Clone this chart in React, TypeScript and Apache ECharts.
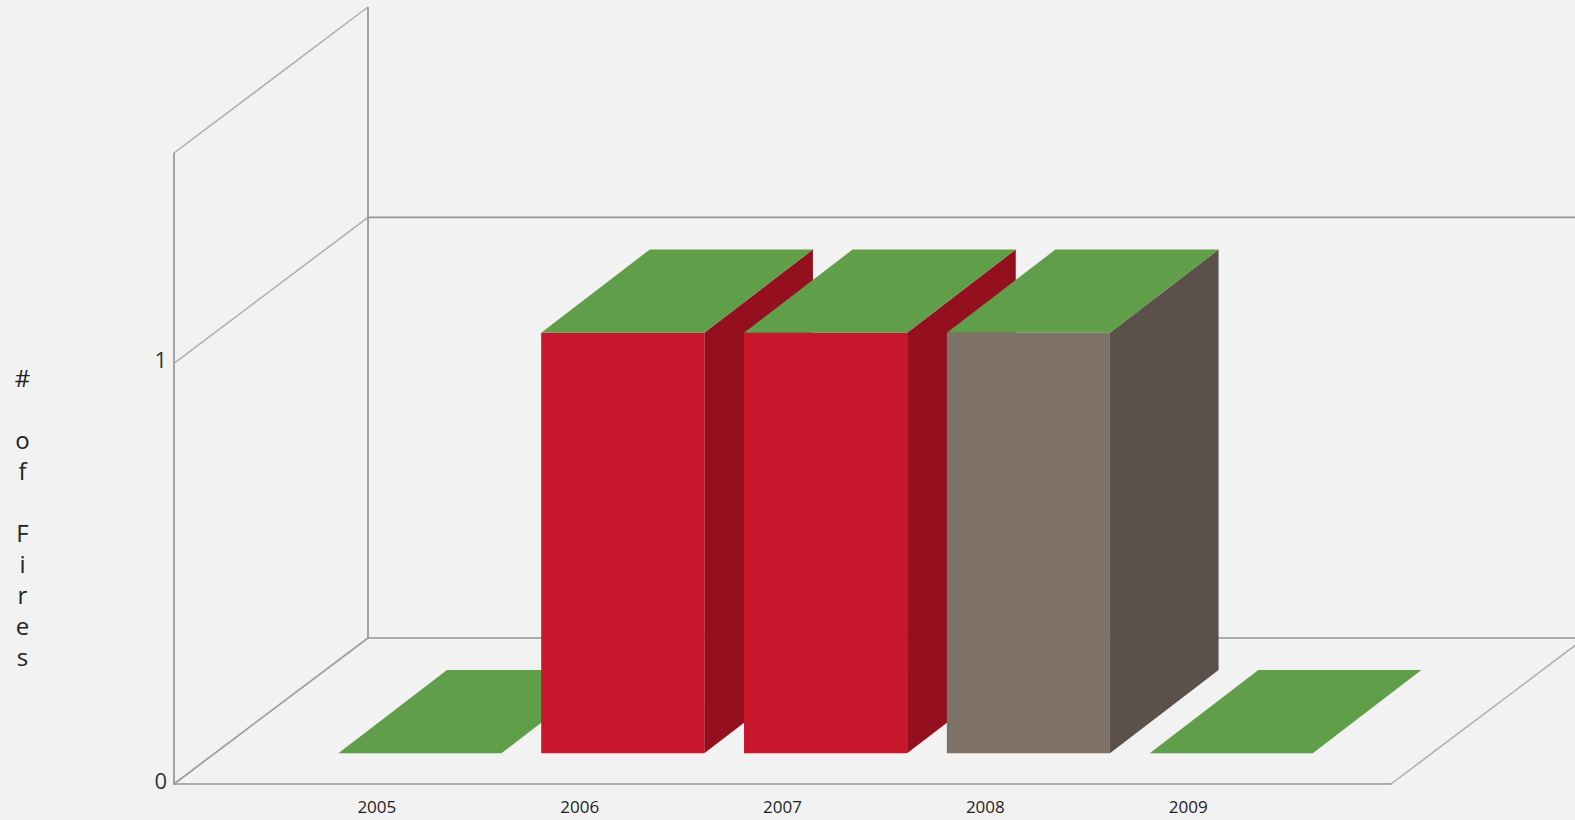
import React, { useEffect, useRef } from "react";
import * as echarts from "echarts";

const categories = ["2005", "2006", "2007", "2008", "2009"];
const fireCounts = [0, 1, 1, 1, 0];
const frontColors = ["#c8172c", "#c8172c", "#c8172c", "#7e7167", "#7e7167"];
const sideColors = ["#94101f", "#94101f", "#94101f", "#5b514a", "#5b514a"];
const topColor = "#619e4a";
const axisTitleLines = ["#", "", "o", "f", "", "F", "i", "r", "e", "s"];
const yMax = 1.5;
const yTicks = [0, 1];

const DEPTH_X = 194;
const DEPTH_Y = 146;
const NEAR_X = 0.222;
const NEAR_Y = 0.21;
const SPAN_X = 0.56;
const SPAN_Y = 0.57;
const FONT = "'Open Sans', 'Noto Sans', sans-serif";

const line = (x1: number, y1: number, x2: number, y2: number, stroke: string, w: number) => ({
  type: "line",
  shape: { x1, y1, x2, y2 },
  style: { stroke, lineWidth: w, fill: "none" },
});

const renderFrame = (_p: any, api: any) => {
  const lastIndex = categories.length + 1;
  const o = api.coord([0, 0]);
  const one = api.coord([0, 1]);
  const top = api.coord([0, yMax]);
  const end = api.coord([lastIndex, 0]);
  const dark = "#959595";
  const light = "#adadad";
  return {
    type: "group",
    children: [
      line(top[0], top[1], top[0] + DEPTH_X, top[1] - DEPTH_Y, light, 1.5),
      line(one[0], one[1], one[0] + DEPTH_X, one[1] - DEPTH_Y, light, 1.5),
      line(o[0], o[1], o[0] + DEPTH_X, o[1] - DEPTH_Y, "#9c9c9c", 1.7),
      line(end[0], end[1], end[0] + DEPTH_X, end[1] - DEPTH_Y, light, 1.5),
      line(top[0] + DEPTH_X, top[1] - DEPTH_Y, o[0] + DEPTH_X, o[1] - DEPTH_Y, dark, 1.7),
      line(one[0] + DEPTH_X, one[1] - DEPTH_Y, end[0] + DEPTH_X, one[1] - DEPTH_Y, dark, 1.7),
      line(o[0] + DEPTH_X, o[1] - DEPTH_Y, end[0] + DEPTH_X, o[1] - DEPTH_Y, dark, 1.7),
    ],
  };
};

const renderBar = (params: any, api: any) => {
  const i = params.dataIndex;
  const idx = api.value(0);
  const val = api.value(1);
  const base = api.coord([idx, 0]);
  const head = api.coord([idx, val]);
  const band = api.coord([1, 0])[0] - api.coord([0, 0])[0];
  const half = band * 0.402;
  const nx = DEPTH_X * NEAR_X;
  const ny = DEPTH_Y * NEAR_Y;
  const fx = DEPTH_X * SPAN_X;
  const fy = DEPTH_Y * SPAN_Y;
  const l = base[0] + nx - half;
  const r = base[0] + nx + half;
  const b = base[1] - ny;
  const t = head[1] - ny;
  const poly = (points: number[][], fill: string) => ({
    type: "polygon",
    shape: { points },
    style: { fill },
  });
  const children: any[] = [];
  if (val > 0) {
    children.push(poly([[r, b], [r + fx, b - fy], [r + fx, t - fy], [r, t]], sideColors[i]));
    children.push(poly([[l, b], [r, b], [r, t], [l, t]], frontColors[i]));
  }
  children.push(poly([[l, t], [r, t], [r + fx, t - fy], [l + fx, t - fy]], topColor));
  return { type: "group", children };
};

export default function App() {
  const ref = useRef<HTMLDivElement>(null);
  useEffect(() => {
    document.body.style.margin = "0";
    document.body.style.overflow = "hidden";
    const chart = echarts.init(ref.current!, undefined, { renderer: "svg" });
    chart.setOption({
      animation: false,
      backgroundColor: "#f2f2f2",
      grid: { left: 174, top: 153, width: 1217, height: 631, containLabel: false },
      xAxis: {
        type: "category",
        boundaryGap: false,
        data: ["", ...categories, ""],
        axisLine: { lineStyle: { color: "#959595", width: 1.7 } },
        axisTick: { show: false },
        splitLine: { show: false },
        axisLabel: { color: "#1e1e1e", fontFamily: FONT, fontSize: 17, margin: 14, interval: 0 },
      },
      yAxis: {
        type: "value",
        min: 0,
        max: yMax,
        interval: 1,
        axisLine: { show: true, lineStyle: { color: "#959595", width: 1.7 } },
        axisTick: { show: false },
        splitLine: { show: false },
        axisLabel: {
          color: "#333",
          fontFamily: FONT,
          fontSize: 22,
          margin: 7,
          verticalAlign: "bottom",
          lineHeight: 8,
          formatter: (v: number) => (yTicks.includes(v) ? String(v) : ""),
        },
      },
      series: [
        { type: "custom", renderItem: renderFrame, data: [[0, 0]], silent: true, z: 1 },
        {
          type: "custom",
          renderItem: renderBar,
          encode: { x: 0, y: 1 },
          data: categories.map((c, i) => [c, fireCounts[i]]),
          silent: true,
          z: 2,
        },
      ],
      graphic: axisTitleLines.map((ch, i) => ({
        type: "text",
        x: 22.5,
        y: 377 + i * 31.1,
        style: {
          text: ch,
          fill: "#222",
          font: `24px ${FONT}`,
          textAlign: "center",
          textVerticalAlign: "middle",
        },
      })).filter((g) => g.style.text !== ""),
    });
    return () => chart.dispose();
  }, []);
  return <div ref={ref} style={{ width: 1575, height: 820 }} />;
}
